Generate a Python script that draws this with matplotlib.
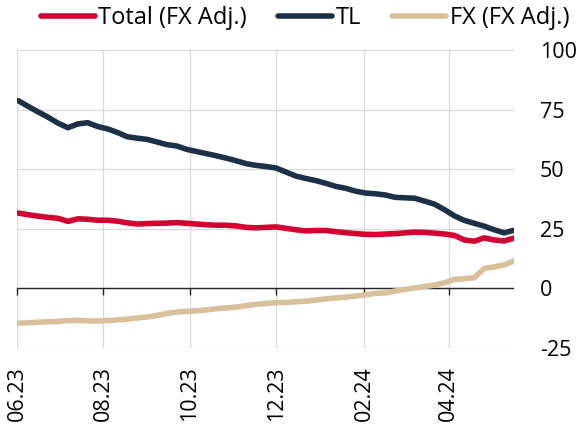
import pandas as pd
import matplotlib.pyplot as plt
import matplotlib.dates as mdates
import numpy as np

plt.rcParams['font.family'] = ['Open Sans', 'DejaVu Sans']
plt.rcParams['axes.unicode_minus'] = False

# weekly data (Fridays), 02.06.2023 - 17.05.2024
dates = pd.date_range('2023-06-02', periods=51, freq='7D')

total_fx_adj = [31.6, 30.9, 30.3, 29.8, 29.4, 28.1, 29.2, 29.0, 28.6, 28.6,
                28.2, 27.5, 27.0, 27.2, 27.3, 27.4, 27.6, 27.3, 27.0, 26.7,
                26.5, 26.5, 26.2, 25.6, 25.4, 25.6, 25.8, 25.2, 24.6, 24.1,
                24.3, 24.3, 23.8, 23.4, 23.0, 22.7, 22.6, 22.8, 23.0, 23.3,
                23.6, 23.5, 23.2, 22.8, 22.2, 20.3, 19.8, 21.2, 20.3, 19.9,
                21.1]
tl = [78.7, 76.3, 74.0, 71.8, 69.3, 67.4, 69.0, 69.5, 67.9, 66.9,
      65.4, 63.6, 63.0, 62.5, 61.4, 60.3, 59.7, 58.3, 57.4, 56.5,
      55.6, 54.6, 53.5, 52.3, 51.6, 51.1, 50.5, 48.8, 47.1, 46.1,
      45.2, 44.1, 42.8, 42.0, 40.8, 40.0, 39.7, 39.2, 38.2, 38.0,
      37.8, 36.6, 35.3, 33.0, 30.4, 28.5, 27.3, 26.1, 24.6, 23.3,
      24.4]
fx_fx_adj = [-14.6, -14.4, -14.2, -14.0, -13.9, -13.5, -13.4, -13.6, -13.7, -13.5,
             -13.2, -12.9, -12.4, -12.0, -11.3, -10.5, -9.9, -9.6, -9.4, -9.0,
             -8.5, -8.2, -7.8, -7.2, -6.7, -6.3, -6.0, -5.9, -5.6, -5.4,
             -4.9, -4.4, -4.0, -3.7, -3.2, -2.7, -2.1, -1.9, -1.1, -0.4,
             0.2, 0.8, 1.4, 2.4, 3.8, 4.1, 4.5, 8.4, 9.0, 9.9,
             11.5]

series_names = ['Total (FX Adj.)', 'TL', 'FX (FX Adj.)']
colors = ['#D50032', '#1C3147', '#D8C09A']

tick_dates = pd.to_datetime(['2023-06-01', '2023-08-01', '2023-10-01',
                             '2023-12-01', '2024-02-01', '2024-04-01'])
y_ticks = [-25, 0, 25, 50, 75, 100]

fig = plt.figure(figsize=(5.81, 4.30), dpi=100)
ax = fig.add_axes([17 / 581, 1 - 348 / 430, 497 / 581, 298 / 430])

for vals, name, c in zip([total_fx_adj, tl, fx_fx_adj], series_names, colors):
    ax.plot(dates, vals, color=c, lw=4, label=name, solid_capstyle='round',
            solid_joinstyle='round', zorder=3)

ax.set_xlim(pd.Timestamp('2023-06-01'), pd.Timestamp('2024-05-17'))
ax.set_ylim(-25, 100)
ax.set_yticks(y_ticks)
ax.set_xticks(tick_dates)
ax.xaxis.set_major_formatter(mdates.DateFormatter('%m.%y'))

ax.grid(True, color='#D9D9D9', lw=0.9)
ax.set_axisbelow(True)
for s in ax.spines.values():
    s.set_visible(False)

ax.yaxis.tick_right()
ax.tick_params(axis='y', length=0, pad=18.5, labelsize=15.5, colors='#000000')
ax.tick_params(axis='x', length=0, pad=13, labelsize=15.5, rotation=90)

# zero line with small tick marks pointing down (Excel-style axis at 0)
ax.axhline(0, color='#262626', lw=1, zorder=2)
ax.plot(tick_dates, [0] * len(tick_dates), ls='none', marker=3, ms=5,
        mew=1, color='#262626', zorder=2, clip_on=False)

fig.legend(loc='center right', bbox_to_anchor=(569 / 581, 1 - 18 / 430), ncol=3,
           frameon=False, fontsize=17, handlelength=2.3, handletextpad=0.15,
           columnspacing=1.3, borderaxespad=0.0, borderpad=0.0)

fig.savefig('out.png', dpi=100)
